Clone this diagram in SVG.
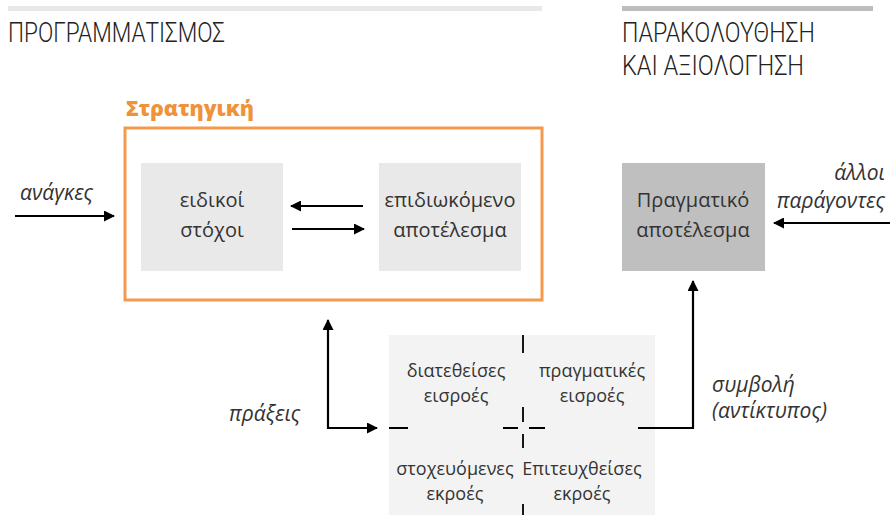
<svg xmlns="http://www.w3.org/2000/svg" width="890" height="515" viewBox="0 0 890 515">
<defs>
<marker id="ah" markerWidth="11" markerHeight="11" refX="10" refY="5.5" orient="auto" markerUnits="userSpaceOnUse"><path d="M0,0 L11,5.5 L0,11 Z" fill="#000"/></marker>
<style>
text{font-family:"Open Sans","Noto Sans","DejaVu Sans",sans-serif;fill:#333;font-weight:400}
.t{font-family:Roboto,"Open Sans",sans-serif;font-size:27px;font-weight:300;fill:#222}
.n{font-size:20px;text-anchor:middle}
.s{font-size:18px;text-anchor:middle}
.i{font-size:21px;font-style:italic}
.c{stroke:#000;stroke-width:2.2;fill:none}
.k{stroke:#000;stroke-width:1.8;fill:none}
</style>
</defs>
<rect x="8" y="6" width="534" height="5" fill="#e8e8e8"/>
<rect x="622" y="6" width="251" height="5" fill="#bdbdbd"/>
<text class="t" x="8" y="42" textLength="217" lengthAdjust="spacingAndGlyphs">ΠΡΟΓΡΑΜΜΑΤΙΣΜΟΣ</text>
<text class="t" x="622" y="42" textLength="193" lengthAdjust="spacingAndGlyphs">ΠΑΡΑΚΟΛΟΥΘΗΣΗ</text>
<text class="t" x="622" y="75" textLength="182" lengthAdjust="spacingAndGlyphs">ΚΑΙ ΑΞΙΟΛΟΓΗΣΗ</text>
<g id="strategy">
<text x="126" y="116" textLength="128" lengthAdjust="spacingAndGlyphs" style="font-size:21px;font-weight:800;fill:#f0923a">Στρατηγική</text>
<rect x="125" y="128" width="417" height="172" fill="none" stroke="#f39a4f" stroke-width="3"/>
</g>
<g id="eidikoi">
<rect x="141" y="163" width="142" height="108" fill="#e9e9e9"/>
<text class="n" x="212" y="207">ειδικοί</text>
<text class="n" x="212" y="237">στόχοι</text>
</g>
<g id="epidiokomeno">
<rect x="379" y="163" width="142" height="108" fill="#e9e9e9"/>
<text class="n" x="450" y="207">επιδιωκόμενο</text>
<text class="n" x="450" y="237">αποτέλεσμα</text>
</g>
<g id="pragmatiko">
<rect x="622" y="163" width="143" height="108" fill="#bfbfbf"/>
<text class="n" x="693" y="207">Πραγματικό</text>
<text class="n" x="693" y="237">αποτέλεσμα</text>
</g>
<g id="grid">
<rect x="389" y="335" width="266" height="180" fill="#f3f3f3"/>
<text class="s" x="456" y="377">διατεθείσες</text>
<text class="s" x="456" y="402">εισροές</text>
<text class="s" x="592" y="377">πραγματικές</text>
<text class="s" x="592" y="402">εισροές</text>
<text class="s" x="455" y="475">στοχευόμενες</text>
<text class="s" x="455" y="500">εκροές</text>
<text class="s" x="582" y="475">Επιτευχθείσες</text>
<text class="s" x="582" y="500">εκροές</text>
<path class="k" d="M523,335 V353 M523,407 V422 M523,434 V448 M523,504 V515 M389,428 H408 M503,428 H518 M529,428 H545"/>
</g>
<g id="labels">
<text class="i" x="20" y="200">ανάγκες</text>
<text class="i" x="885" y="180" text-anchor="end">άλλοι</text>
<text class="i" x="885" y="208" text-anchor="end">παράγοντες</text>
<text class="i" x="229" y="421">πράξεις</text>
<text class="i" x="712" y="392">συμβολή</text>
<text class="i" x="712" y="418">(αντίκτυπος)</text>
</g>
<g id="connectors">
<path class="c" d="M15,216 H114" marker-end="url(#ah)"/>
<path class="c" d="M363,206 H291" marker-end="url(#ah)"/>
<path class="c" d="M292,229 H364" marker-end="url(#ah)"/>
<path class="c" d="M890,223 H774" marker-end="url(#ah)"/>
<path class="c" d="M638,428 H693 V281" marker-end="url(#ah)"/>
<path class="c" d="M376,428 H328 V320" marker-end="url(#ah)"/>
<path class="c" d="M328,428 H377" marker-end="url(#ah)"/>
</g>
</svg>
